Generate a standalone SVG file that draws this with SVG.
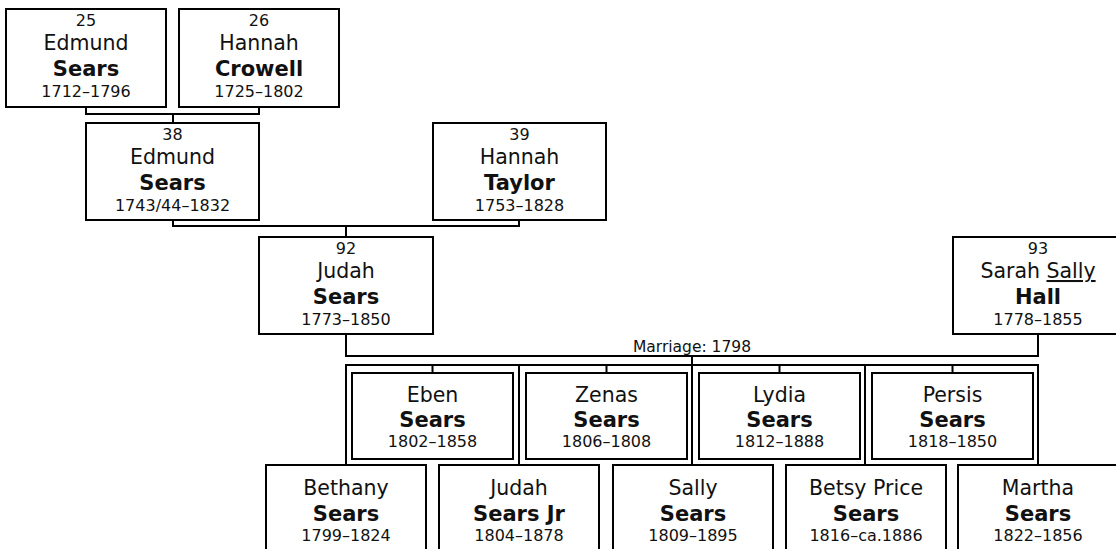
<svg xmlns="http://www.w3.org/2000/svg" width="1116" height="549" viewBox="0 0 1116 549">
<style>
.box{fill:#fff;stroke:#000;stroke-width:2}
.ln{fill:none;stroke:#000;stroke-width:2}
text{font-family:"DejaVu Sans",Verdana,sans-serif;fill:#111;text-anchor:middle}
.num{font-size:16px}
.nm{font-size:20.5px}
.sn{font-size:21px;font-weight:bold}
.dt{font-size:16px}
.lbl{font-size:15.5px}
</style>
<rect width="1116" height="549" fill="#fff"/>
<g id="connectors">
<path class="ln" d="M86,107 V114 H259 V107 M173,114 V123"/>
<path class="ln" d="M173,220 V226 H519 V220 M346,226 V237"/>
<path class="ln" d="M346,334 V356 H1038 V334 M692,356 V365"/>
<path class="ln" d="M346,465 V365 H1038 V465 M519,365 V465 M692,365 V465 M865,365 V465"/>
<path class="ln" d="M432.5,365 V373 M606.5,365 V373 M779.5,365 V373 M952.5,365 V373"/>
<text class="lbl" x="692" y="352">Marriage: 1798</text>
</g>
<g id="n25"><rect class="box" x="6" y="9" width="160" height="98"/>
<text class="num" x="86" y="26">25</text><text class="nm" x="86" y="50">Edmund</text><text class="sn" x="86" y="76">Sears</text><text class="dt" x="86" y="97">1712–1796</text></g>
<g id="n26"><rect class="box" x="179" y="9" width="160" height="98"/>
<text class="num" x="259" y="26">26</text><text class="nm" x="259" y="50">Hannah</text><text class="sn" x="259" y="76">Crowell</text><text class="dt" x="259" y="97">1725–1802</text></g>
<g id="n38"><rect class="box" x="86" y="123" width="173" height="97"/>
<text class="num" x="172.5" y="140">38</text><text class="nm" x="172.5" y="164">Edmund</text><text class="sn" x="172.5" y="190">Sears</text><text class="dt" x="172.5" y="211">1743/44–1832</text></g>
<g id="n39"><rect class="box" x="433" y="123" width="173" height="97"/>
<text class="num" x="519.5" y="140">39</text><text class="nm" x="519.5" y="164">Hannah</text><text class="sn" x="519.5" y="190">Taylor</text><text class="dt" x="519.5" y="211">1753–1828</text></g>
<g id="n92"><rect class="box" x="259" y="237" width="174" height="97"/>
<text class="num" x="346" y="254">92</text><text class="nm" x="346" y="278">Judah</text><text class="sn" x="346" y="304">Sears</text><text class="dt" x="346" y="325">1773–1850</text></g>
<g id="n93"><rect class="box" x="953" y="237" width="170" height="97"/>
<text class="num" x="1038" y="254">93</text><text class="nm" x="1038" y="278">Sarah <tspan text-decoration="underline">Sally</tspan></text><text class="sn" x="1038" y="304">Hall</text><text class="dt" x="1038" y="325">1778–1855</text></g>
<g id="eben"><rect class="box" x="352" y="373" width="161" height="86"/>
<text class="nm" x="432.5" y="402">Eben</text><text class="sn" x="432.5" y="427">Sears</text><text class="dt" x="432.5" y="447">1802–1858</text></g>
<g id="zenas"><rect class="box" x="526" y="373" width="161" height="86"/>
<text class="nm" x="606.5" y="402">Zenas</text><text class="sn" x="606.5" y="427">Sears</text><text class="dt" x="606.5" y="447">1806–1808</text></g>
<g id="lydia"><rect class="box" x="699" y="373" width="161" height="86"/>
<text class="nm" x="779.5" y="402">Lydia</text><text class="sn" x="779.5" y="427">Sears</text><text class="dt" x="779.5" y="447">1812–1888</text></g>
<g id="persis"><rect class="box" x="872" y="373" width="161" height="86"/>
<text class="nm" x="952.5" y="402">Persis</text><text class="sn" x="952.5" y="427">Sears</text><text class="dt" x="952.5" y="447">1818–1850</text></g>
<g id="bethany"><rect class="box" x="266" y="465" width="160" height="98"/>
<text class="nm" x="346" y="495">Bethany</text><text class="sn" x="346" y="521">Sears</text><text class="dt" x="346" y="541">1799–1824</text></g>
<g id="judahjr"><rect class="box" x="439" y="465" width="160" height="98"/>
<text class="nm" x="519" y="495">Judah</text><text class="sn" x="519" y="521">Sears Jr</text><text class="dt" x="519" y="541">1804–1878</text></g>
<g id="sally"><rect class="box" x="613" y="465" width="160" height="98"/>
<text class="nm" x="693" y="495">Sally</text><text class="sn" x="693" y="521">Sears</text><text class="dt" x="693" y="541">1809–1895</text></g>
<g id="betsy"><rect class="box" x="786" y="465" width="160" height="98"/>
<text class="nm" x="866" y="495">Betsy Price</text><text class="sn" x="866" y="521">Sears</text><text class="dt" x="866" y="541">1816–ca.1886</text></g>
<g id="martha"><rect class="box" x="958" y="465" width="160" height="98"/>
<text class="nm" x="1038" y="495">Martha</text><text class="sn" x="1038" y="521">Sears</text><text class="dt" x="1038" y="541">1822–1856</text></g>
</svg>
